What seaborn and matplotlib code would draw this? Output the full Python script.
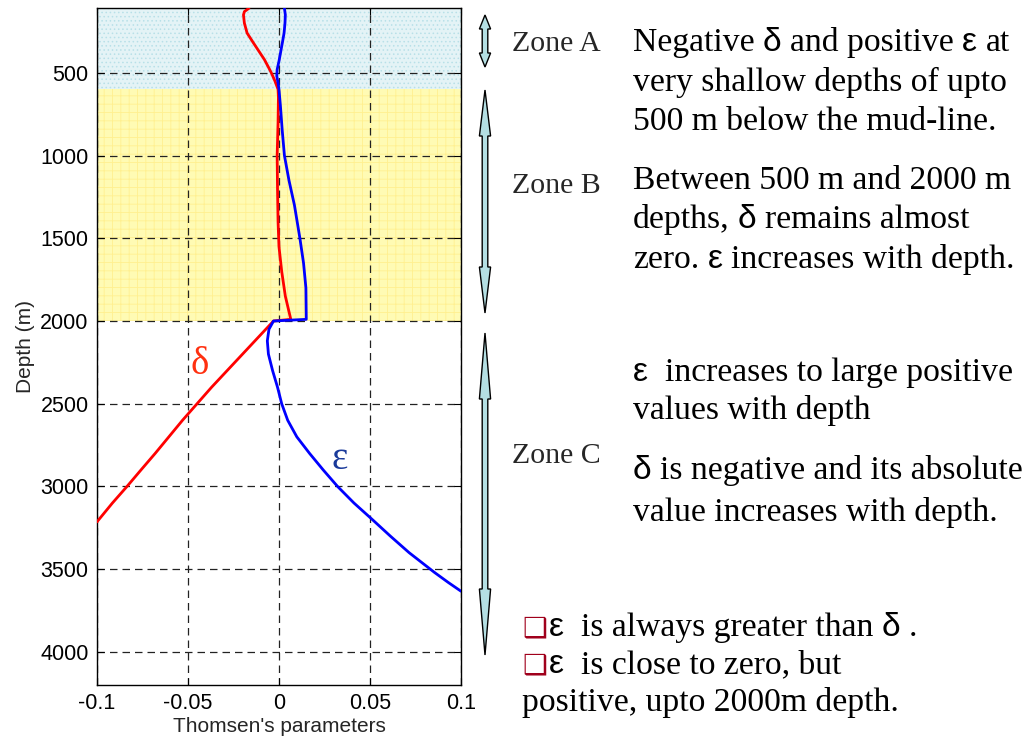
import re
import numpy as np
import pandas as pd
import matplotlib
matplotlib.use("Agg")
import matplotlib.pyplot as plt
import seaborn as sns
from matplotlib.patches import Polygon

# ---------------- data ----------------
delta_depth = [110, 130, 150, 200, 260, 320, 370, 420, 470, 500, 550, 600,
               650, 800, 1000, 1200, 1400, 1550, 1700, 1850, 1990, 2000,
               2100, 2200, 2300, 2400, 2500, 2600, 2700, 2800, 2900, 3000, 3100, 3214]
delta_value = [-0.0165, -0.019, -0.0195, -0.019, -0.0175, -0.014, -0.011, -0.008, -0.0056, -0.0042, -0.0022, -0.0005,
               -0.0003, -0.0005, -0.001, -0.0008, -0.0005, 0.0, 0.0015, 0.0035, 0.0065, -0.003,
               -0.0115, -0.02, -0.0285, -0.037, -0.045, -0.053, -0.0605, -0.068, -0.0758, -0.0835, -0.0915, -0.1]

eps_depth = [110, 150, 200, 260, 310, 370, 430, 480, 520, 560, 600,
             700, 850, 1000, 1150, 1300, 1500, 1650, 1800, 1990, 2000,
             2050, 2120, 2200, 2300, 2400, 2500, 2600, 2700, 2800, 2900,
             3000, 3100, 3200, 3300, 3400, 3460, 3520, 3580, 3633]
eps_value = [0.003, 0.0035, 0.0033, 0.0028, 0.002, 0.001, 0.0, -0.001, -0.0012, -0.0005, 0.0,
             0.0008, 0.0018, 0.003, 0.0055, 0.0085, 0.0115, 0.0135, 0.0148, 0.015, -0.003,
             -0.0055, -0.0064, -0.0058, -0.0035, -0.0008, 0.0015, 0.0048, 0.0098, 0.0168, 0.0243,
             0.0322, 0.0412, 0.0513, 0.0612, 0.0715, 0.0785, 0.0855, 0.093, 0.1]

zone_bounds = [110, 600, 2000]          # zone A: 110-600 m, zone B: 600-2000 m
x_ticks = [-0.1, -0.05, 0, 0.05, 0.1]
x_tick_labels = ["-0.1", "-0.05", "0", "0.05", "0.1"]
y_ticks = [500, 1000, 1500, 2000, 2500, 3000, 3500, 4000]

# ---------------- style ----------------
sns.set_style("ticks")
plt.rcParams["font.family"] = ["Liberation Sans", "DejaVu Sans"]
plt.rcParams["hatch.linewidth"] = 0.6

SERIF = "Liberation Serif"
SANS = "Liberation Sans"

fig = plt.figure(figsize=(10.26, 7.45), dpi=100)
ax = fig.add_axes([0.0945, 0.0805, 0.3548, 0.9084])

# zone backgrounds
ax.axhspan(zone_bounds[0], zone_bounds[1], facecolor="#e4f3f6", edgecolor="#b8e0e8",
           hatch="....", lw=0, zorder=0.5)
ax.axhspan(zone_bounds[1], zone_bounds[2], facecolor="#fffbb4", edgecolor="#fff090",
           hatch="++", lw=0, zorder=0.5)

df = pd.concat([
    pd.DataFrame({"depth": delta_depth, "value": delta_value, "param": "delta"}),
    pd.DataFrame({"depth": eps_depth, "value": eps_value, "param": "epsilon"}),
], ignore_index=True)

sns.lineplot(data=df, x="value", y="depth", hue="param",
             palette={"delta": "#ff0000", "epsilon": "#0000ff"},
             sort=False, estimator=None, orient="y", legend=False,
             lw=2.0, ax=ax, zorder=3)

ax.set_xlim(-0.1, 0.1)
ax.set_ylim(4200, zone_bounds[0])
ax.set_xticks(x_ticks, x_tick_labels)
ax.set_yticks(y_ticks)
ax.grid(True, color="#222222", linestyle=(0, (6, 4)), lw=0.9)
ax.set_axisbelow("line")
for s in ax.spines.values():
    s.set_visible(True)
    s.set_color("black")
    s.set_linewidth(1.0)
ax.tick_params(direction="in", length=5, top=True, right=True,
               labelsize=15.5, pad=6, colors="black")
ax.set_xlabel("Thomsen's parameters", fontsize=15, labelpad=2)
ax.set_ylabel("Depth (m)", fontsize=15, labelpad=4)

ax.text(-0.0434, 2265, "δ", family=SERIF, fontsize=28, color="#ff3010",
        ha="center", va="center", zorder=4)
ax.text(0.0335, 2839, "ε", family=SERIF, fontsize=28, color="#1a3a9a",
        ha="center", va="center", zorder=4)

# ---------------- annotation layer (pixel coordinates) ----------------
ov = fig.add_axes([0, 0, 1, 1], zorder=5)
ov.set_xlim(0, 1026)
ov.set_ylim(745, 0)
ov.axis("off")
ov.patch.set_alpha(0)

renderer = fig.canvas.get_renderer()


def text_width(s, family, size):
    t = ov.text(0, 0, s, family=family, fontsize=size)
    w = t.get_window_extent(renderer).width
    t.remove()
    return w


_space_cache = {}


def space_width(family, size):
    key = (family, size)
    if key not in _space_cache:
        _space_cache[key] = text_width("x x", family, size) - text_width("xx", family, size)
    return _space_cache[key]


def draw_rich(x, y, markup, size=24.2, color="black"):
    """Serif text with {...} runs set in sans (Greek symbols)."""
    for tok in re.split(r"(\{[^}]*\})", markup):
        if not tok:
            continue
        fam = SANS if tok.startswith("{") else SERIF
        txt = tok.strip("{}")
        lead = len(txt) - len(txt.lstrip(" "))
        trail = len(txt) - len(txt.rstrip(" "))
        core = txt.strip(" ")
        x += lead * space_width(fam, size)
        if core:
            t = ov.text(x, y, core, family=fam, fontsize=size, color=color,
                        va="baseline", ha="left")
            x += t.get_window_extent(renderer).width
        x += trail * space_width(fam, size)
    return x


def double_arrow(xc, y0, y1, hl, hw=5.6, w=2.8):
    pts = [(xc - w, y0 + hl), (xc - hw, y0 + hl), (xc, y0), (xc + hw, y0 + hl),
           (xc + w, y0 + hl), (xc + w, y1 - hl), (xc + hw, y1 - hl), (xc, y1),
           (xc - hw, y1 - hl), (xc - w, y1 - hl)]
    ov.add_patch(Polygon(pts, closed=True, facecolor="#b4dfe3",
                         edgecolor="black", lw=1.0))


double_arrow(485, 15, 67, 14)
double_arrow(485, 90, 313, 46)
double_arrow(485, 333, 655, 66)

zone_size = 21.5
ov.text(512, 51, "Zone A", family=SERIF, fontsize=zone_size, va="baseline")
ov.text(512, 193, "Zone B", family=SERIF, fontsize=zone_size, va="baseline")
ov.text(512, 463, "Zone C", family=SERIF, fontsize=zone_size, va="baseline")

tx = 633
draw_rich(tx, 51, "Negative {δ} and positive {ε} at")
draw_rich(tx, 91, "very shallow depths of upto")
draw_rich(tx, 130, "500 m below the mud-line.")
draw_rich(tx, 189, "Between 500 m and 2000 m")
draw_rich(tx, 228, "depths, {δ} remains almost")
draw_rich(tx, 268, "zero. {ε} increases with depth.")
draw_rich(tx, 381, "{ε}  increases to large positive")
draw_rich(tx, 419, "values with depth")
draw_rich(tx, 479, "{δ} is negative and its absolute")
draw_rich(tx, 521, "value increases with depth.")

bullet_color = "#a0001c"
for yb, line in [(636, "{ε}  is always greater than {δ} ."),
                 (673, "{ε}  is close to zero, but")]:
    b = ov.text(522, yb, "❑", family="DejaVu Sans", fontsize=20,
                color=bullet_color, va="baseline", ha="left")
    bx = 522 + b.get_window_extent(renderer).width + 2
    draw_rich(bx, yb, line)
draw_rich(522, 711, "positive, upto 2000m depth.")

fig.savefig("out.png", dpi=100)
